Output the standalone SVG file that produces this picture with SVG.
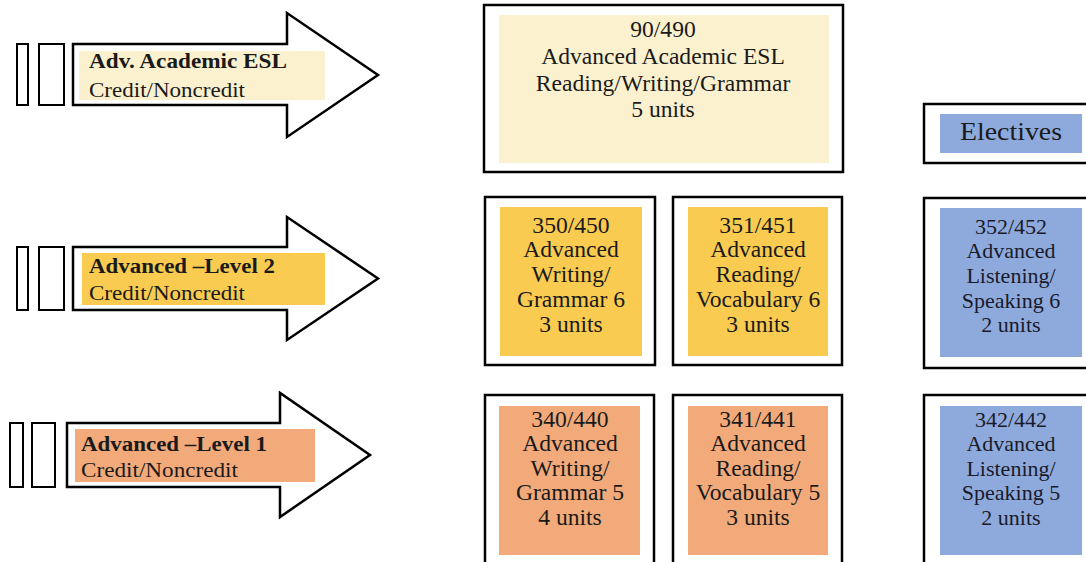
<svg xmlns="http://www.w3.org/2000/svg" width="1086" height="562" viewBox="0 0 1086 562">
<style>
.bg{fill:#ffffff}
.arrow{fill:#ffffff;stroke:#000000;stroke-width:2.5;stroke-linejoin:miter}
.bar{fill:#ffffff;stroke:#000000;stroke-width:2}
.box{fill:#ffffff;stroke:#000000;stroke-width:2.5}
.lt{fill:#FBF1CF}
.yl{fill:#F9CB50}
.or{fill:#F2AA7A}
.bl{fill:#8EAADC}
.lbl{font-family:"Liberation Serif","Times New Roman",serif;font-size:22px;fill:#1a1a1a}
.b{font-weight:bold}
.t{font-family:"Liberation Serif","Times New Roman",serif;font-size:23.6px;fill:#1a1a1a;text-anchor:middle}
.tb{font-family:"Liberation Serif","Times New Roman",serif;font-size:22px;fill:#1a1a2a;text-anchor:middle}
</style>
<rect class="bg" x="0" y="0" width="1086" height="562"/>

<g id="arrow-academic">
  <rect class="bar" x="17" y="44" width="11" height="61"/>
  <rect class="bar" x="39" y="44" width="25" height="61"/>
  <polygon class="arrow" points="73,44 287,44 287,13 378,75 287,137 287,105 73,105"/>
  <rect class="lt" x="79" y="51" width="246" height="49"/>
  <text class="lbl b" x="89" y="68" textLength="198" lengthAdjust="spacingAndGlyphs">Adv. Academic ESL</text>
  <text class="lbl" x="89" y="97" textLength="156" lengthAdjust="spacingAndGlyphs">Credit/Noncredit</text>
</g>

<g id="arrow-level2">
  <rect class="bar" x="17" y="247" width="11" height="63"/>
  <rect class="bar" x="39" y="247" width="25" height="63"/>
  <polygon class="arrow" points="73,247 287,247 287,217 378,278.5 287,340 287,310 73,310"/>
  <rect class="yl" x="82" y="253" width="243" height="52"/>
  <text class="lbl b" x="89" y="273" textLength="186" lengthAdjust="spacingAndGlyphs">Advanced –Level 2</text>
  <text class="lbl" x="89" y="300" textLength="156" lengthAdjust="spacingAndGlyphs">Credit/Noncredit</text>
</g>

<g id="arrow-level1">
  <rect class="bar" x="10" y="423" width="13" height="64"/>
  <rect class="bar" x="32" y="423" width="23" height="64"/>
  <polygon class="arrow" points="67,423 280,423 280,393 370,455 280,517 280,487 67,487"/>
  <rect class="or" x="75" y="429" width="240" height="53"/>
  <text class="lbl b" x="81" y="451" textLength="186" lengthAdjust="spacingAndGlyphs">Advanced –Level 1</text>
  <text class="lbl" x="81" y="477" textLength="157" lengthAdjust="spacingAndGlyphs">Credit/Noncredit</text>
</g>

<g id="course-90-490">
  <rect class="box" x="484" y="5" width="359" height="167"/>
  <rect class="lt" x="499" y="15" width="330" height="148"/>
  <text class="t" x="663" y="37">90/490</text>
  <text class="t" x="663" y="64">Advanced Academic ESL</text>
  <text class="t" x="663" y="91">Reading/Writing/Grammar</text>
  <text class="t" x="663" y="117">5 units</text>
</g>

<g id="electives">
  <rect class="box" x="924" y="104" width="180" height="59"/>
  <rect class="bl" x="940" y="114" width="142" height="39"/>
  <text class="t" x="1011" y="140" style="font-size:26px" textLength="102" lengthAdjust="spacingAndGlyphs">Electives</text>
</g>

<g id="course-350-450">
  <rect class="box" x="485" y="197" width="170" height="168"/>
  <rect class="yl" x="500" y="207" width="142" height="149"/>
  <text class="t" x="571" y="233">350/450</text>
  <text class="t" x="571" y="257">Advanced</text>
  <text class="t" x="571" y="282">Writing/</text>
  <text class="t" x="571" y="307">Grammar 6</text>
  <text class="t" x="571" y="332">3 units</text>
</g>

<g id="course-351-451">
  <rect class="box" x="673" y="197" width="169" height="168"/>
  <rect class="yl" x="688" y="207" width="140" height="149"/>
  <text class="t" x="758" y="233">351/451</text>
  <text class="t" x="758" y="257">Advanced</text>
  <text class="t" x="758" y="282">Reading/</text>
  <text class="t" x="758" y="307">Vocabulary 6</text>
  <text class="t" x="758" y="332">3 units</text>
</g>

<g id="course-352-452">
  <rect class="box" x="924" y="198" width="180" height="170"/>
  <rect class="bl" x="940" y="208" width="142" height="149"/>
  <text class="tb" x="1011" y="234">352/452</text>
  <text class="tb" x="1011" y="258">Advanced</text>
  <text class="tb" x="1011" y="283">Listening/</text>
  <text class="tb" x="1011" y="308">Speaking 6</text>
  <text class="tb" x="1011" y="332">2 units</text>
</g>

<g id="course-340-440">
  <rect class="box" x="485" y="395" width="169" height="180"/>
  <rect class="or" x="499" y="406" width="141" height="149"/>
  <text class="t" x="570" y="427">340/440</text>
  <text class="t" x="570" y="451">Advanced</text>
  <text class="t" x="570" y="476">Writing/</text>
  <text class="t" x="570" y="500">Grammar 5</text>
  <text class="t" x="570" y="525">4 units</text>
</g>

<g id="course-341-441">
  <rect class="box" x="673" y="395" width="169" height="180"/>
  <rect class="or" x="688" y="406" width="140" height="149"/>
  <text class="t" x="758" y="427">341/441</text>
  <text class="t" x="758" y="451">Advanced</text>
  <text class="t" x="758" y="476">Reading/</text>
  <text class="t" x="758" y="500">Vocabulary 5</text>
  <text class="t" x="758" y="525">3 units</text>
</g>

<g id="course-342-442">
  <rect class="box" x="924" y="395" width="180" height="180"/>
  <rect class="bl" x="940" y="406" width="142" height="149"/>
  <text class="tb" x="1011" y="427">342/442</text>
  <text class="tb" x="1011" y="451">Advanced</text>
  <text class="tb" x="1011" y="476">Listening/</text>
  <text class="tb" x="1011" y="500">Speaking 5</text>
  <text class="tb" x="1011" y="525">2 units</text>
</g>

<g id="connectors"></g>
</svg>
